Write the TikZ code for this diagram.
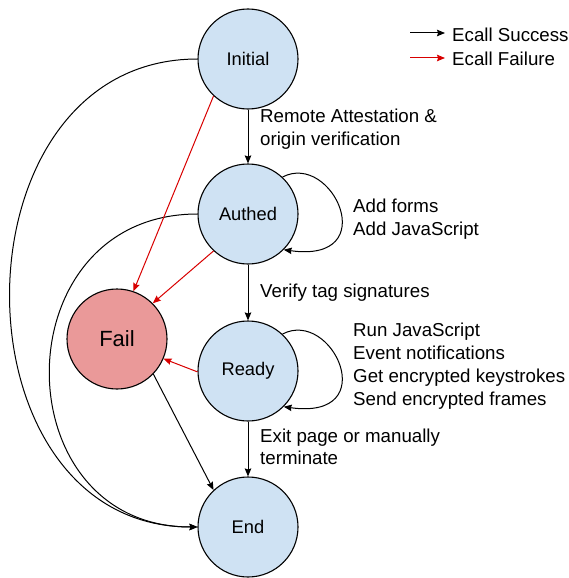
\documentclass[tikz,border=0pt]{standalone}
\usepackage{fontspec}
\setmainfont{Liberation Sans}
\usetikzlibrary{arrows.meta}
\definecolor{stateblue}{HTML}{CFE2F3}
\definecolor{failred}{HTML}{EA9999}
\definecolor{arrred}{HTML}{D80000}
\tikzset{
  state/.style={circle, draw=black, line width=1.1pt, fill=stateblue, minimum size=100pt, inner sep=0pt,
    font=\fontsize{18.3}{22}\selectfont},
  failstate/.style={state, fill=failred, font=\fontsize{22}{26}\selectfont},
  okarrow/.style={draw=black, line width=1pt, -{Stealth[length=8pt,width=6.5pt,inset=1pt]}},
  badarrow/.style={draw=arrred, line width=1pt, -{Stealth[length=8pt,width=6.5pt,inset=1pt]}},
  lbl/.style={anchor=west, inner sep=0pt, align=left, font=\fontsize{18.7}{22.5}\selectfont},
  lbltall/.style={lbl, font=\fontsize{18.7}{23}\selectfont}
}
\begin{document}
\begin{tikzpicture}[x=1pt,y=-1pt]
\useasboundingbox (0,0) rectangle (568,578);
\node[state] (init) at (248,59) {Initial};
\node[state] (auth) at (248,214) {Authed};
\node[failstate] (fail) at (117,339) {Fail};
\node[state] (ready) at (248,371) {Ready};
\node[state] (end) at (248,527) {End};

% success transitions
\draw[okarrow] (init.south) -- (auth.north);
\draw[okarrow] (auth.south) -- (ready.north);
\draw[okarrow] (ready.south) -- (end.north);
\draw[okarrow] (fail.-44) -- (end.133);
\draw[okarrow] (init.west) .. controls (-52,59) and (-52,527) .. (end.west);
\draw[okarrow] (auth.west) .. controls (1,214) and (1,527) .. (end.west);

% self loops
\draw[okarrow] (auth.47) .. controls +(50,-26) and +(100,14) .. (auth.-45);
\draw[okarrow] (ready.47) .. controls +(50,-26) and +(100,14) .. (ready.-45);

% failure transitions
\draw[badarrow] (init.227) -- (fail.71);
\draw[badarrow] (auth.227) -- (fail.45);
\draw[badarrow] (ready.181) -- (fail.-23);

% labels
\node[lbl] (l1) at (260,129) {Remote Attestation \&\\origin verification};
\node[lbl] (l2) at (353,219) {Add forms\\Add JavaScript};
\node[lbl] (l3) at (260,293) {Verify tag signatures};
\node[lbltall] (l4) at (353,366.5) {Run JavaScript\\Event notifications\\Get encrypted keystrokes\\Send encrypted frames};
\node[lbl] (l5) at (260,447) {Exit page or manually\\terminate};

% legend
\coordinate (s1) at (410,33);
\coordinate (s2) at (445,33);
\coordinate (f1) at (410,58);
\coordinate (f2) at (445,58);
\draw[okarrow] (s1) -- (s2);
\draw[badarrow] (f1) -- (f2);
\node[lbl] (lg1) at (452,35) {Ecall Success};
\node[lbl] (lg2) at (452,59) {Ecall Failure};
\end{tikzpicture}
\end{document}
